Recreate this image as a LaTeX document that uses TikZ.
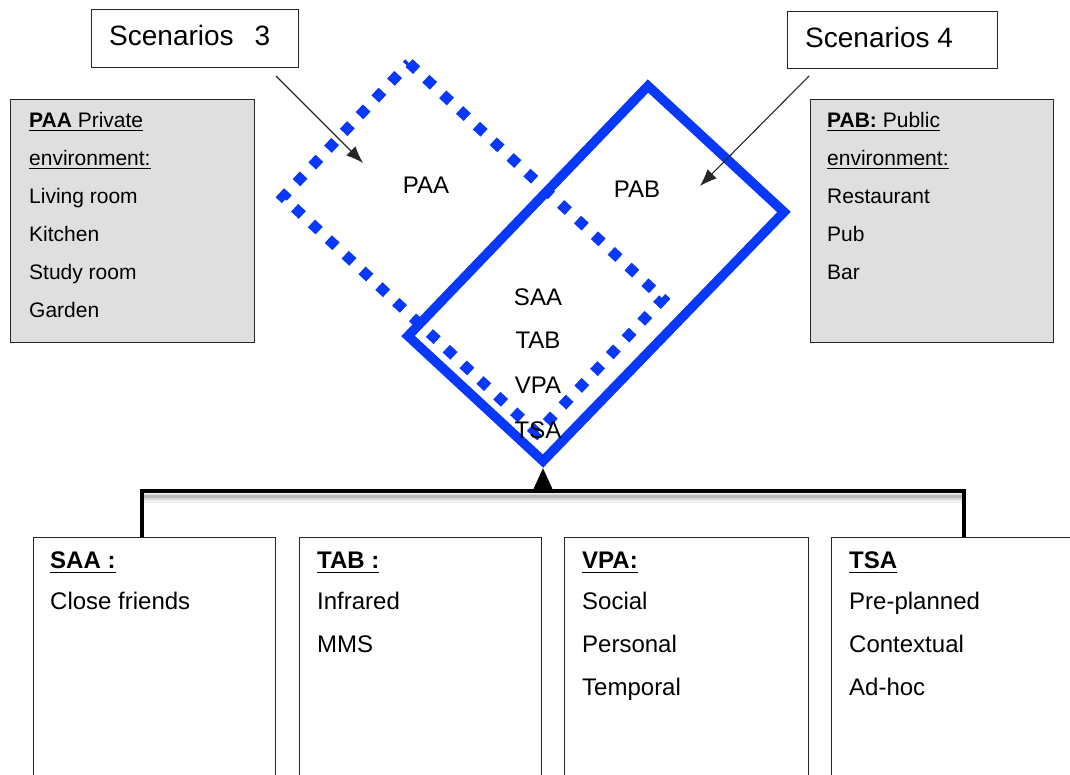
\documentclass[tikz,border=0pt]{standalone}
\usepackage{fontspec}
\setmainfont{Liberation Sans}
\usetikzlibrary{arrows.meta}
\definecolor{dblue}{RGB}{8,56,250}
\definecolor{boxgray}{RGB}{223,223,223}
\newsavebox\myulbox
\newcommand{\myul}[2][4pt]{\sbox\myulbox{#2}\rlap{\rule[-#1]{\wd\myulbox}{1.4pt}}\usebox\myulbox}
\begin{document}
\begin{tikzpicture}[x=1pt,y=-1pt,
  sidebox/.style={draw=black!85, line width=1.3pt, fill=boxgray, anchor=north west, inner sep=0pt},
  scenbox/.style={draw=black!85, line width=1.3pt, fill=white, anchor=north west, inner sep=0pt},
  botbox/.style={draw=black!85, line width=1.3pt, anchor=north west, inner sep=0pt, minimum height=300pt},
  lbl/.style={anchor=base west, inner sep=0pt},
  sidetxt/.style={lbl, font=\fontsize{21}{25}\selectfont},
  bottxt/.style={lbl, font=\fontsize{24}{28}\selectfont},
  dtxt/.style={anchor=base, inner sep=0pt, font=\fontsize{24}{28}\selectfont},
  scentxt/.style={lbl, font=\fontsize{28}{32}\selectfont},
  thinarrow/.style={black!85, line width=1.1pt, -{Latex[length=17pt,width=13pt]}},
  soliddia/.style={dblue, line width=9.5pt, line join=miter},
  dotdia/.style={dblue, line width=10.5pt, dash pattern=on 10.5pt off 12.5pt}
]
\path[use as bounding box, clip] (0,0) rectangle (1070,774);

% scenario boxes
\node[scenbox, minimum width=207pt, minimum height=58pt] (s3) at (91,9) {};
\node[scenbox, minimum width=210pt, minimum height=57pt] (s4) at (787,11) {};
\node[scentxt] (s3t) at (109,45) {Scenarios\hspace{0.75em}3};
\node[scentxt] (s4t) at (805,47) {Scenarios 4};

% side boxes
\node[sidebox, minimum width=244pt, minimum height=243pt] (paabox) at (10,99) {};
\node[sidebox, minimum width=243pt, minimum height=243pt] (pabbox) at (810,99) {};

\node[sidetxt] (paa1) at (29,127) {\myul{\textbf{PAA} Private}};
\node[sidetxt] (paa2) at (29,165) {\myul{environment:}};
\node[sidetxt] (paa3) at (29,203) {Living room};
\node[sidetxt] (paa4) at (29,241) {Kitchen};
\node[sidetxt] (paa5) at (29,279) {Study room};
\node[sidetxt] (paa6) at (29,317) {Garden};

\node[sidetxt] (pab1) at (827,127) {\myul{\textbf{PAB:} Public}};
\node[sidetxt] (pab2) at (827,165) {\myul{environment:}};
\node[sidetxt] (pab3) at (827,203) {Restaurant};
\node[sidetxt] (pab4) at (827,241) {Pub};
\node[sidetxt] (pab5) at (827,279) {Bar};

% dotted rectangle
\coordinate (dT) at (409,63);
\coordinate (dR) at (663,299);
\coordinate (dB) at (537,433);
\coordinate (dL) at (283,197);
\draw[dotdia] (dT) -- (dR) -- (dB) -- (dL) -- cycle;

% solid rectangle
\coordinate (sT) at (648,86);
\coordinate (sR) at (784,212);
\coordinate (sB) at (543,461);
\coordinate (sL) at (408,336);
\draw[soliddia] (sT) -- (sR) -- (sB) -- (sL) -- cycle;

% diamond labels
\node[dtxt] (lpaa) at (426,193) {PAA};
\node[dtxt] (lpab) at (637,197) {PAB};
\node[dtxt] (lsaa) at (538,305) {SAA};
\node[dtxt] (ltab) at (538,348) {TAB};
\node[dtxt] (lvpa) at (538,393) {VPA};
\node[dtxt] (ltsa) at (538,438) {TSA};

% scenario arrows
\coordinate (a3s) at (276,76);
\coordinate (a3e) at (363,163);
\coordinate (a4s) at (809,76);
\coordinate (a4e) at (700,186);
\draw[thinarrow] (a3s) -- (a3e);
\draw[thinarrow] (a4s) -- (a4e);

% bottom boxes
\node[botbox, minimum width=242pt] (b1) at (33,537) {};
\node[botbox, minimum width=242pt] (b2) at (299,537) {};
\node[botbox, minimum width=244pt] (b3) at (564,537) {};
\node[botbox, minimum width=250pt] (b4) at (831,537) {};

\node[bottxt] (b1h) at (50,568) {\myul[5pt]{\textbf{SAA :}}};
\node[bottxt] (b1a) at (50,609) {Close friends};

\node[bottxt] (b2h) at (317,568) {\myul[5pt]{\textbf{TAB :}}};
\node[bottxt] (b2a) at (317,609) {Infrared};
\node[bottxt] (b2b) at (317,652) {MMS};

\node[bottxt] (b3h) at (582,568) {\myul[5pt]{\textbf{VPA:}}};
\node[bottxt] (b3a) at (582,609) {Social};
\node[bottxt] (b3b) at (582,652) {Personal};
\node[bottxt] (b3c) at (582,695) {Temporal};

\node[bottxt] (b4h) at (849,568) {\myul[5pt]{\textbf{TSA}}};
\node[bottxt] (b4a) at (849,609) {Pre-planned};
\node[bottxt] (b4b) at (849,652) {Contextual};
\node[bottxt] (b4c) at (849,695) {Ad-hoc};

% bracket
\coordinate (brL) at (142,491);
\coordinate (brR) at (964,491);
\coordinate (brC) at (543,491);
\foreach \o/\w/\op in {7/10/0.06,6/6/0.10,5/3/0.14}{
  \draw[black, line width=\w pt, opacity=\op] ([yshift=-\o pt]brL) -- ([yshift=-\o pt]brR);
}
\draw[black, line width=4pt] (b1.north -| brL) -- (brL) -- (brR) -- (b4.north -| brR);
\draw[black, line width=3pt, -{Triangle[length=22pt,width=19pt]}] (brC) -- ([yshift=-7pt]sB);
\end{tikzpicture}
\end{document}
